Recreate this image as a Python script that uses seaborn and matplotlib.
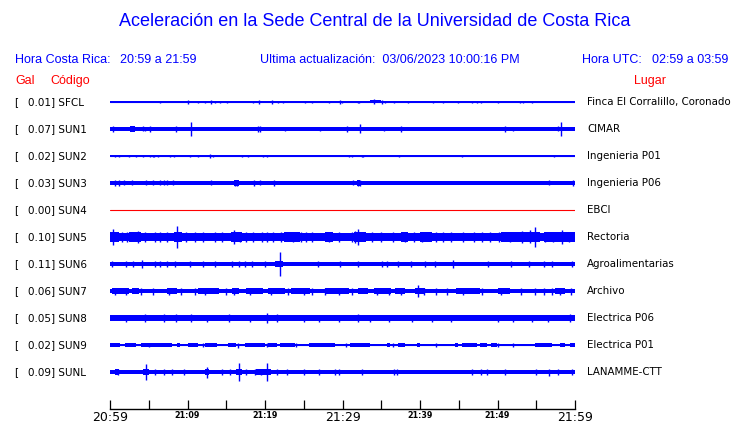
import matplotlib
matplotlib.use("Agg")
import matplotlib.pyplot as plt
import seaborn as sns
import pandas as pd

# ---- data ----
duration = 60  # minutes shown, 20:59 -> 21:59
tick_step = 5
tick_labels = {0: "20:59", 10: "21:09", 20: "21:19", 30: "21:29", 40: "21:39", 50: "21:49", 60: "21:59"}
big_ticks = [0, 30, 60]

codes = ["SFCL", "SUN1", "SUN2", "SUN3", "SUN4", "SUN5", "SUN6", "SUN7", "SUN8", "SUN9", "SUNL"]
gal = [0.01, 0.07, 0.02, 0.03, 0.00, 0.10, 0.11, 0.06, 0.05, 0.02, 0.09]
places = ["Finca El Corralillo, Coronado", "CIMAR", "Ingenieria P01", "Ingenieria P06", "EBCI",
          "Rectoria", "Agroalimentarias", "Archivo", "Electrica P06", "Electrica P01", "LANAMME-CTT"]

# background noise level per trace (half amplitude, trace units)
base_amp = [0.6, 1.6, 0.6, 2.0, 0.0, 4.0, 1.6, 1.6, 3.0, 0.8, 1.8]

# noisy stretches: (start min, end min, half amplitude)
segments = {
    "SFCL": [(6.3, 6.7, 1.4), (19.3, 19.7, 1.4), (33.6, 35.0, 1.5), (54.0, 54.6, 1.4)],
    "SUN1": [(0.2, 2.8, 2.1), (2.6, 3.2, 2.6), (15.7, 18.5, 2.1), (25.6, 29.5, 2.1), (40.9, 41.9, 2.1),
             (42.6, 43.7, 2.1), (44.1, 50.1, 2.1), (52.7, 60.0, 2.1)],
    "SUN2": [(0.5, 0.8, 1.4), (7.0, 7.5, 1.4), (15.9, 16.9, 1.4), (18.6, 19.6, 1.4)],
    "SUN3": [(16.0, 16.6, 2.8), (31.9, 32.3, 2.6)],
    "SUN4": [],
    "SUN5": [(0.0, 1.2, 4.8), (2.5, 4.0, 4.8), (8.3, 9.3, 4.8), (15.6, 17.0, 5.2), (22.5, 24.5, 4.5),
             (27.8, 28.8, 4.5), (31.5, 33.0, 5.5), (37.5, 38.5, 4.8), (40.0, 41.5, 4.5), (50.5, 55.5, 4.8),
             (56.0, 60.0, 4.8)],
    "SUN6": [(0.0, 1.5, 2.4), (9.5, 11.0, 2.4), (21.3, 22.3, 3.0), (28.5, 30.5, 2.4), (33.5, 36.0, 2.4),
             (40.0, 44.5, 2.4), (55.5, 56.5, 2.4)],
    "SUN7": [(0.2, 2.4, 3.0), (2.8, 3.7, 3.0), (7.3, 8.6, 3.0), (11.4, 14.0, 3.0), (15.7, 16.6, 3.0),
             (17.6, 19.8, 3.0), (20.4, 22.6, 3.0), (23.4, 25.8, 3.0), (27.7, 30.8, 3.0), (32.0, 33.3, 3.0),
             (34.0, 36.3, 3.0), (36.8, 38.1, 3.0), (39.4, 40.6, 3.0), (44.7, 47.7, 3.0), (50.1, 51.6, 3.0),
             (57.4, 58.7, 3.0)],
    "SUN8": [(0.0, 1.5, 3.4), (4.0, 9.0, 3.4), (14.5, 16.5, 3.4), (19.0, 23.0, 3.4), (31.0, 34.0, 3.4),
             (46.0, 48.0, 3.4), (58.5, 60.0, 3.4)],
    "SUN9": [(0.0, 1.3, 1.8), (1.9, 3.4, 1.8), (4.0, 8.0, 1.8), (8.6, 9.0, 1.8), (10.1, 11.4, 1.8),
             (12.3, 13.8, 1.8), (15.2, 16.3, 1.8), (17.4, 20.0, 1.8), (20.4, 21.5, 1.8), (21.9, 23.9, 1.8),
             (25.7, 29.0, 1.8), (31.0, 33.5, 1.8), (35.7, 36.1, 1.8), (37.2, 38.1, 1.8), (39.6, 40.0, 1.8),
             (44.5, 44.9, 1.8), (45.4, 47.3, 1.8), (47.7, 48.6, 1.8), (49.2, 49.9, 1.8), (54.8, 57.0, 1.8),
             (58.1, 58.7, 1.8), (59.4, 60.0, 1.8)],
    "SUNL": [(0.6, 1.2, 2.6), (4.3, 5.0, 2.6), (12.2, 12.8, 2.6), (16.3, 17.0, 2.6), (18.9, 20.8, 2.6)],
}

# single peaks: (minute, half amplitude)
spikes = {
    "SFCL": [(6.45, 1.4), (10.1, 1.6), (11.3, 1.4), (12.2, 1.4), (13.0, 1.6), (13.5, 1.4), (14.2, 1.2),
             (15.1, 1.2), (18.5, 1.2), (19.2, 1.6), (20.9, 1.6), (21.7, 1.4), (22.3, 1.4), (25.2, 1.4),
             (26.0, 1.4), (28.3, 1.2), (29.7, 1.6), (29.9, 1.2), (32.0, 1.2), (32.1, 1.2), (34.0, 2.5),
             (35.1, 1.6), (35.5, 1.4), (36.6, 1.4), (38.4, 1.4), (41.7, 1.4), (43.0, 1.4), (44.9, 1.2),
             (46.7, 1.2), (47.4, 1.4), (47.9, 1.2), (50.0, 1.2), (52.9, 1.4), (53.3, 1.2), (54.5, 1.2)],
    "SUN1": [(10.4, 7.3), (32.3, 4.5), (58.2, 6.8), (5.2, 3.0), (2.8, 2.5), (19.1, 3.0), (19.4, 2.6),
             (8.5, 2.6), (30.6, 2.6), (37.5, 2.6), (51.0, 2.6), (52.0, 2.3), (22.6, 2.3), (27.1, 2.3),
             (35.4, 2.3), (0.4, 2.6), (4.5, 2.3), (4.2, 2.5), (57.8, 2.5)],
    "SUN2": [(0.65, 1.4), (1.2, 1.4), (2.4, 1.4), (3.3, 1.4), (4.3, 1.4), (5.2, 1.4), (5.5, 1.4),
             (5.7, 1.4), (6.2, 1.4), (7.7, 1.4), (8.3, 1.4), (10.3, 1.4), (11.4, 1.4), (12.9, 2.0),
             (13.3, 1.4), (17.0, 1.4), (17.8, 1.4), (19.7, 1.4), (20.3, 1.4), (30.8, 1.4), (31.2, 1.4),
             (32.5, 1.4), (32.7, 1.4), (37.3, 1.4), (45.4, 1.4), (57.3, 1.4)],
    "SUN3": [(0.65, 3.0), (1.2, 2.7), (1.85, 2.5), (2.8, 2.5), (4.6, 2.5), (5.6, 2.5), (6.45, 2.5),
             (7.0, 2.5), (7.4, 2.5), (8.1, 2.5), (13.0, 2.5), (16.1, 3.0), (16.4, 3.0), (18.6, 3.0),
             (19.4, 2.5), (21.1, 2.7), (31.3, 2.5), (32.0, 2.7), (32.3, 2.7), (56.7, 2.5), (59.8, 2.7)],
    "SUN4": [],
    "SUN5": [(8.7, 10.8), (16.0, 7.5), (32.0, 8.0), (31.6, 6.0), (54.8, 9.5), (54.2, 6.5), (0.4, 8.0),
             (3.6, 6.0), (58.3, 7.0), (53.1, 6.0), (16.8, 5.5), (23.6, 5.5), (24.7, 5.5), (28.3, 5.0),
             (31.2, 5.0), (38.1, 5.0), (40.2, 5.0), (51.6, 5.0), (56.1, 5.5), (5.8, 5.0), (12.0, 5.0),
             (19.6, 5.0), (26.0, 5.0), (35.0, 5.0), (44.0, 5.0), (47.0, 5.0), (13.5, 5.0), (21.0, 5.0),
             (42.0, 5.0), (49.0, 5.0), (1.5, 5.0), (2.2, 5.0), (4.5, 5.0), (6.5, 5.0), (7.3, 5.0),
             (9.8, 5.0), (11.0, 5.0), (14.5, 5.0), (17.5, 5.5), (18.4, 5.0), (20.2, 5.0), (22.0, 5.0),
             (25.3, 5.0), (29.5, 5.0), (33.8, 5.0), (36.5, 5.0), (39.2, 5.0), (43.0, 5.0), (45.5, 5.0),
             (48.0, 5.0), (50.2, 5.0), (57.2, 5.5), (59.2, 5.5)],
    "SUN6": [(21.9, 11.7), (0.2, 3.0), (4.1, 4.0), (10.3, 3.0), (44.3, 4.0), (56.0, 3.0), (35.7, 3.0),
             (29.7, 2.7), (26.9, 2.7), (5.8, 2.7), (7.3, 2.7), (8.4, 2.7), (15.7, 2.7), (16.6, 2.7),
             (18.3, 2.7), (20.0, 2.7), (32.0, 2.7), (35.1, 2.7), (37.2, 2.7), (38.9, 2.7), (40.6, 2.7),
             (41.9, 2.7), (48.8, 2.7), (51.8, 2.7), (54.0, 2.7), (57.0, 2.7), (59.6, 2.7), (2.0, 2.7),
             (3.0, 2.7), (6.5, 2.7), (12.0, 2.7), (13.5, 2.7), (17.4, 2.7)],
    "SUN7": [(39.7, 6.3), (0.6, 3.5), (2.0, 3.5), (4.0, 3.5), (5.5, 3.5), (7.6, 3.5), (9.2, 3.5),
             (11.0, 3.5), (12.2, 3.5), (15.0, 3.5), (16.0, 3.5), (18.0, 3.5), (20.8, 3.5), (23.0, 3.5),
             (25.0, 3.5), (26.0, 3.5), (27.8, 3.5), (29.5, 3.5), (31.2, 3.5), (34.5, 3.5), (36.0, 3.5),
             (37.5, 3.5), (40.5, 3.5), (42.0, 3.5), (43.5, 3.5), (45.5, 3.5), (48.0, 3.5), (50.5, 3.5),
             (53.0, 3.5), (54.8, 3.5), (56.0, 3.5), (57.0, 3.5), (58.0, 3.5), (59.5, 3.5)],
    "SUN8": [(20.3, 5.0), (4.5, 3.8), (10.5, 3.8), (15.3, 3.8), (32.0, 3.8), (59.3, 3.8), (33.5, 3.5),
             (7.0, 3.6), (8.5, 3.6), (21.5, 3.6), (27.0, 3.5), (44.0, 3.5), (52.0, 3.5), (2.0, 3.5),
             (12.5, 3.5), (18.0, 3.5), (25.0, 3.5), (29.5, 3.5), (36.0, 3.5), (39.0, 3.5), (41.5, 3.5),
             (50.0, 3.5), (54.5, 3.5), (56.5, 3.5)],
    "SUN9": [(16.5, 2.5), (20.3, 2.2), (5.0, 2.0), (12.0, 2.0), (24.0, 2.0), (30.5, 2.0), (36.5, 2.0),
             (42.0, 2.0), (50.0, 2.0), (52.0, 2.0)],
    "SUNL": [(4.6, 8.3), (12.5, 5.5), (16.6, 8.8), (20.3, 9.3), (1.0, 2.7), (5.8, 2.7), (7.0, 2.7),
             (8.0, 2.7), (9.5, 2.7), (14.5, 2.7), (15.5, 2.7), (17.5, 3.0), (18.7, 2.7), (19.5, 3.0),
             (21.5, 2.7), (22.8, 2.7), (25.0, 2.7), (27.0, 2.7), (29.0, 2.7), (29.5, 2.7), (32.5, 2.7),
             (36.7, 2.7), (37.0, 2.7), (46.7, 3.0), (47.9, 3.0), (48.6, 2.7), (51.0, 2.7), (55.0, 2.7),
             (56.7, 3.5), (57.8, 2.7), (59.6, 2.7)],
}

W, H = 740, 423
BLUE = "#0000ff"
RED = "#ff0000"
row_px = 27.0  # one trace row in pixels
scale = 1.0 / row_px  # trace units -> row units


def px(x, y):
    return x / W, 1 - y / H


def draw_traces(ax):
    for i, code in enumerate(codes):
        color = RED if gal[i] == 0 else BLUE
        line = pd.DataFrame({"t": [0, duration], "y": [i, i]})
        sns.lineplot(data=line, x="t", y="y", ax=ax, color=color, linewidth=0.8)
        b = base_amp[i] * scale
        if b > 0:
            ax.fill_between([0, duration], i - b, i + b, color=color, linewidth=0)
        for t0, t1, a in segments[code]:
            ax.fill_between([t0, t1], i - a * scale, i + a * scale, color=color, linewidth=0)
        if spikes[code]:
            ts = [s[0] for s in spikes[code]]
            amps = [s[1] * scale for s in spikes[code]]
            ax.vlines(ts, [i - a for a in amps], [i + a for a in amps], color=color, linewidth=1.0)


def main():
    sns.set_theme(style="white")
    plt.rcParams["font.family"] = ["DejaVu Sans"]

    fig = plt.figure(figsize=(W / 100, H / 100), dpi=100)
    fig.patch.set_facecolor("white")

    top, bottom = 88.5, 409
    ax = fig.add_axes([110 / W, 1 - bottom / H, 465 / W, (bottom - top) / H])
    ax.set_facecolor("white")
    draw_traces(ax)

    ax.set_xlim(0, duration)
    ax.set_ylim(len(codes) - 1 + (bottom - 372) / row_px, -(102 - top) / row_px)
    for s in ["top", "left", "right"]:
        ax.spines[s].set_visible(False)
    ax.spines["bottom"].set_color("black")
    ax.spines["bottom"].set_linewidth(1.0)
    ax.set_yticks([])
    ax.set_xlabel("")
    ax.set_ylabel("")
    ticks = list(range(0, duration + 1, tick_step))
    ax.set_xticks(ticks)
    ax.set_xticklabels([tick_labels.get(t, "") for t in ticks])
    ax.tick_params(axis="x", direction="in", length=6.5, width=0.9, color="black", pad=1.5,
                   bottom=True)
    for t, lab in zip(ticks, ax.get_xticklabels()):
        if t in big_ticks:
            lab.set_fontsize(9)
        else:
            lab.set_fontsize(5.8)
            lab.set_fontweight("bold")
        lab.set_color("black")

    sans = ["Liberation Sans", "DejaVu Sans"]
    fig.text(*px(375, 22), "Aceleración en la Sede Central de la Universidad de Costa Rica",
             ha="center", va="center", fontsize=13, color=BLUE, family=sans)

    fig.text(*px(15, 60), "Hora Costa Rica:", va="center", fontsize=9, color=BLUE, family=sans)
    fig.text(*px(120, 60), "20:59 a 21:59", va="center", fontsize=9, color=BLUE, family=sans)
    fig.text(*px(260, 60), "Ultima actualización:  03/06/2023 10:00:16 PM", va="center",
             fontsize=9, color=BLUE, family=sans)
    fig.text(*px(582, 60), "Hora UTC:", va="center", fontsize=9, color=BLUE, family=sans)
    fig.text(*px(652, 60), "02:59 a 03:59", va="center", fontsize=9, color=BLUE, family=sans)

    fig.text(*px(15, 81), "Gal", va="center", fontsize=9, color=RED, family=sans)
    fig.text(*px(50, 81), "Código", va="center", fontsize=9, color=RED, family=sans)
    fig.text(*px(634, 81), "Lugar", va="center", fontsize=9, color=RED, family=sans)

    for i, code in enumerate(codes):
        y = 102 + i * row_px
        fig.text(*px(14, y), "[", va="center", fontsize=7.5, color="black")
        fig.text(*px(28, y), f"{gal[i]:.2f}] {code}", va="center", fontsize=7.5, color="black")
        fig.text(*px(587, y), places[i], va="center", fontsize=7.4, color="black")

    fig.savefig("out.png", dpi=100)


if __name__ == "__main__":
    main()
